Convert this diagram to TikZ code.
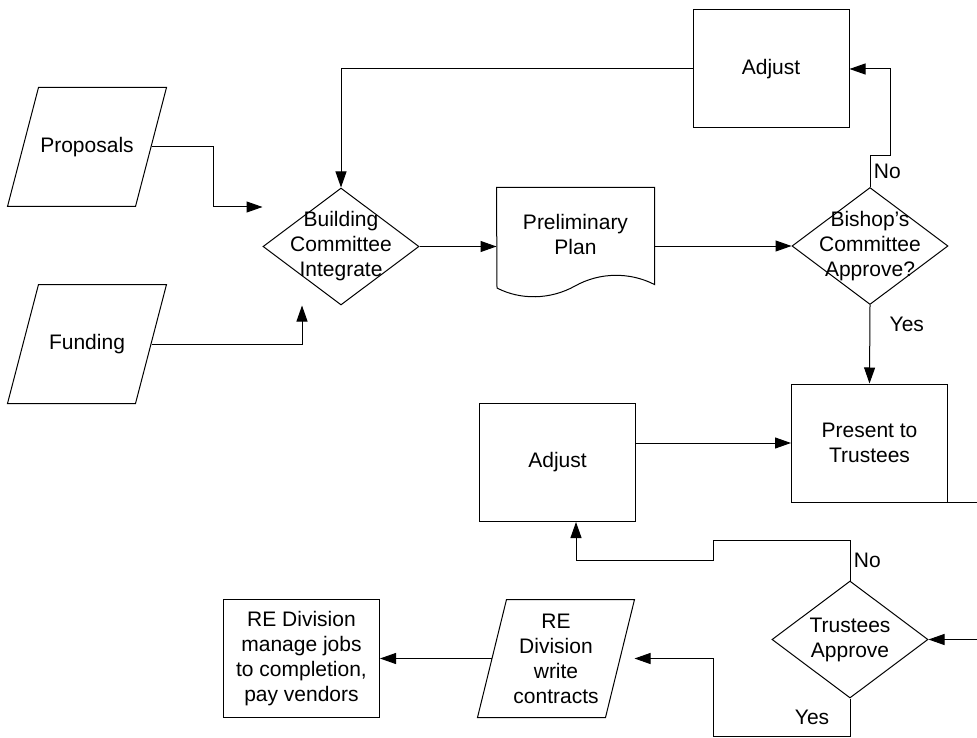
\documentclass[tikz,border=0pt]{standalone}
\usepackage{fontspec}
\setmainfont{Liberation Sans}
\usepackage{tikz}
\usetikzlibrary{shapes.geometric,arrows.meta,calc,positioning}

\begin{document}
\begin{tikzpicture}[x=1pt,y=-1pt,line width=1pt,font=\fontsize{21}{25}\selectfont]
        \tikzstyle{box} = [draw, rectangle, minimum width=156, minimum height=118, align=center, inner sep=0]
        \tikzstyle{io} = [rectangle, minimum width=158, minimum height=118, align=center, inner sep=0]
        \tikzstyle{decision} = [draw, diamond, minimum width=156, minimum height=117, inner sep=0]
        \tikzstyle{arr} = [-{Triangle[length=16pt,width=11pt]}]
        \useasboundingbox (0,0) rectangle (977,738);
        \clip (0,0) rectangle (977,738);
        % shapes
        \node[io] (prop) at (87,147) {Proposals};
        \node[io] (fund) at (87,344) {Funding};
        \node[decision] (bc) at (341,246.5) {};
        \node[align=center] at (bc) {Building\\Committee\\Integrate};
        \node[minimum width=157, minimum height=92, align=center, inner sep=0] (plan) at (575.5,234) {Preliminary\\Plan};
        \draw (plan.north west) -- (plan.north east) -- ++(0,97)
            .. controls (630,272) and (600,272) .. (575,286)
            .. controls (550,300) and (520,300) .. (497,288) -- cycle;
        \node[decision] (bish) at (870,246) {};
        \node[align=center] at (bish) {Bishop's\\Committee\\Approve?};
        \node[box] (adja) at (771,69) {Adjust};
        \node[box] (pres) at (869.5,443) {Present to\\Trustees};
        \node[box] (adjb) at (557.5,462.5) {Adjust};
        \node[decision] (trus) at (850,639.5) {};
        \node[align=center] at (trus) {Trustees\\Approve};
        \node[io, minimum width=156, minimum height=117] (rew) at (556,658.5) {RE\\Division\\write\\contracts};
        \node[box] (rem) at (301.5,658.5) {RE Division\\manage jobs\\to completion,\\pay vendors};
        \foreach \n in {prop, fund, rew}
            \draw (\n.south west) -- ++(128,0) -- (\n.north east) -- ++(-128,0) -- cycle;
        % connectors
        \draw[arr] ($(prop.east)+(-15,0)$) -- ++(62,0) |- ($(bc.west)+(0,-39.5)$);
        \draw[arr] ($(fund.east)+(-15,0)$) -| ($(bc.south)+(-39,0)$);
        \draw[arr] (bc.east) -- (bc.east -| plan.west);
        \draw[arr] (plan.east |- bish.west) -- (bish.west);
        \draw[arr] (bish.north) -- ++(0,-31) node[midway, right] {No} -- ++(20,0) |- (adja.east);
        \draw[arr] (adja.west) -| (bc.north);
        \draw[arr] (bish.south) -- node[pos=0.25, right=16pt] {Yes} (pres.north);
        \draw[arr] (pres.west -| adjb.east) -- (pres.west);
        \draw[arr] (pres.south east) -- ++(60,0) |- (trus.east);
        \draw[arr] (trus.north) -- ++(0,-40) node[midway, right] {No} -- ++(-137,0) -- ++(0,20)
            -| ($(adjb.south)+(18.5,0)$);
        \draw[arr] (trus.south) -- ++(0,38) node[midway, left=17pt] {Yes} -- ++(-137,0)
            |- (rew.east);
        \draw[arr] ($(rew.west)+(14,0)$) -- (rem.east);
    \end{tikzpicture}
\end{document}
